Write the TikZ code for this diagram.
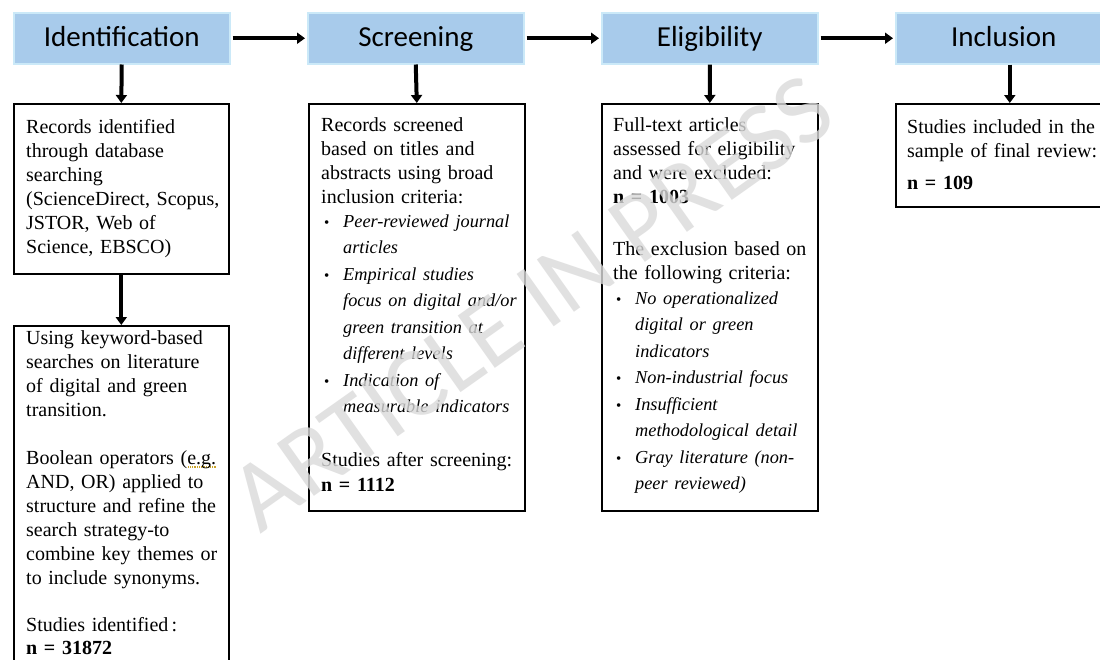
\documentclass[tikz,border=0pt]{standalone}
\usepackage{fontspec}
\setmainfont{Liberation Serif}
\newfontfamily\headfont{Carlito}
\usetikzlibrary{arrows.meta}

\definecolor{stagefill}{HTML}{A8CBEB}
\definecolor{stageedge}{HTML}{CBE9F8}
\definecolor{markgray}{HTML}{DADADA}
\definecolor{grammar}{HTML}{C9A227}

% bullet item and its continuation lines (italic criteria)
\newcommand\critem[1]{\makebox[22pt][l]{\hspace{3pt}{\fontsize{15}{15}\selectfont\textbullet}}{\itshape\fontsize{18.3}{24}\selectfont #1}}
\newcommand\critcont[1]{\hspace*{22pt}{\itshape\fontsize{18.3}{24}\selectfont #1}}
% dotted proofing underline
\newsavebox\grambox
\newcommand\gramline[1]{\sbox\grambox{#1}\rlap{\lower3.5pt\hbox to\wd\grambox{\color{grammar}\xleaders\hbox to 2.2pt{\hss\rule{1.2pt}{1.2pt}\hss}\hfill}}\usebox\grambox}

\tikzset{
  stage/.style={draw=stageedge, line width=1.5pt, fill=stagefill,
    minimum width=216pt, minimum height=51pt, inner sep=0pt, anchor=north west,
    text height=21pt, text depth=4pt,
    font=\headfont\fontsize{29}{34}\selectfont},
  panel/.style={draw=black, line width=1.6pt, anchor=north west, inner sep=0pt},
  boxtext/.style={anchor=base west, inner sep=0pt, align=left, text width=#1,
    font=\fontsize{20}{24}\selectfont},
  flowarrow/.style={line width=4pt, -{Triangle[width=11pt,length=8pt]}},
}

\begin{document}
\begin{tikzpicture}[x=1pt,y=-1pt]
\useasboundingbox (0,0) rectangle (1100,659);
\fill[white] (0,0) rectangle (1100,659);
\clip (0,0) rectangle (1100,659);

% stage headers
\node[stage] (hid) at (13,12) {Identification};
\node[stage] (hsc) at (307,12) {Screening};
\node[stage] (hel) at (601,12) {Eligibility};
\node[stage] (hin) at (895,12) {Inclusion};

% content frames
\node[panel, minimum width=215pt, minimum height=170pt] (idA) at (13,103) {};
\node[panel, minimum width=215pt, minimum height=400pt] (idB) at (13,325) {};
\node[panel, minimum width=216pt, minimum height=407pt] (scA) at (308,103) {};
\node[panel, minimum width=216pt, minimum height=407pt] (elA) at (601,103) {};
\node[panel, minimum width=228pt, minimum height=103pt] (inA) at (895,103) {};

% flow between stages
\draw[flowarrow] ([xshift=2pt]hid.east) -- ([xshift=-2pt]hsc.west);
\draw[flowarrow] ([xshift=2pt]hsc.east) -- ([xshift=-2pt]hel.west);
\draw[flowarrow] ([xshift=2pt]hel.east) -- ([xshift=-2pt]hin.west);

% from stage to its content
\draw[flowarrow] (hid.south) -- (idA.north);
\draw[flowarrow] (idA.south) -- (idB.north);
\draw[flowarrow] (hsc.south) -- (scA.north);
\draw[flowarrow] (hel.south) -- (elA.north);
\draw[flowarrow] (hin.south -| inA.north) -- (inA.north);

% texts
\node[boxtext=200pt] (tidA) at (26,133) {Records identified\\
through database\\
searching\\
(ScienceDirect, Scopus,\\
JSTOR, Web of\\
Science, EBSCO)};

\node[boxtext=200pt] (tidB) at (26,344) {Using keyword-based\\
searches on literature\\
of digital and green\\
transition.\\[24pt]
Boolean operators (\gramline{e.g.}\\
AND, OR) applied to\\
structure and refine the\\
search strategy-to\\
combine key themes or\\
to include synonyms.\\[23pt]
Studies identified\,:\\[-1pt]
\textbf{n = 31872}};

\node[boxtext=200pt] (tscA) at (321,131) {Records screened\\
based on titles and\\
abstracts using broad\\
inclusion criteria:\\
\critem{Peer-reviewed journal}\\[2.5pt]
\critcont{articles}\\[2.5pt]
\critem{Empirical studies}\\[2.5pt]
\critcont{focus on digital and/or}\\[2.5pt]
\critcont{green transition at}\\[2.5pt]
\critcont{different levels}\\[2.5pt]
\critem{Indication of}\\[2.5pt]
\critcont{measurable indicators}\\[29.5pt]
Studies after screening:\\[1pt]
\textbf{n = 1112}};

\node[boxtext=200pt] (telA) at (613,131) {Full-text articles\\
assessed for eligibility\\
and were excluded:\\
\textbf{n = 1003}\\[28pt]
The exclusion based on\\
the following criteria:\\[1pt]
\critem{No operationalized}\\[2.5pt]
\critcont{digital or green}\\[2.5pt]
\critcont{indicators}\\[2.5pt]
\critem{Non-industrial focus}\\[2.5pt]
\critem{Insufficient}\\[2.5pt]
\critcont{methodological detail}\\[2.5pt]
\critem{Gray literature (non-}\\[2.5pt]
\critcont{peer reviewed)}};

\node[boxtext=210pt] (tinA) at (907,133) {Studies included in the\\
sample of final review:\\[8pt]
\textbf{n = 109}};

% watermark
\node[rotate=35.3, text=markgray, text opacity=0.8, inner sep=0pt,
  font=\headfont\fontsize{100}{100}\selectfont] (wmark) at (532,303) {ARTICLE IN PRESS};
\end{tikzpicture}
\end{document}
